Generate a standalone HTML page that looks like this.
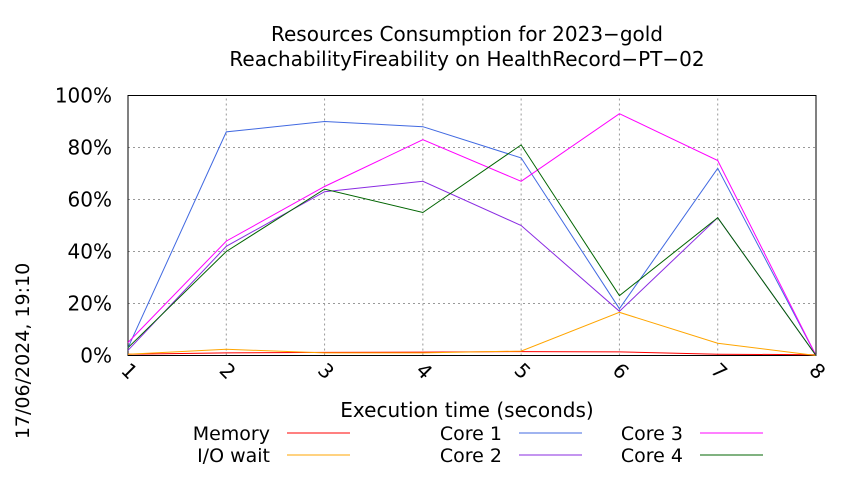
<!DOCTYPE html>
<html><head><meta charset="utf-8"><style>
body{margin:0;background:#fff}
svg{font-family:"DejaVu Sans","Liberation Sans",sans-serif}
</style></head><body>
<svg id="c" width="850" height="475">
<text x="467" y="41" font-size="20" text-anchor="middle">Resources Consumption for 2023−gold</text>
<text x="467" y="66" font-size="20" text-anchor="middle">ReachabilityFireability on HealthRecord−PT−02</text>
<g id="grid"></g><g id="series"></g>
<text x="467" y="417" font-size="20" text-anchor="middle">Execution time (seconds)</text>
<text transform="translate(29,351) rotate(-90)" font-size="19" text-anchor="middle">17/06/2024, 19:10</text>
<g id="legend"></g>
</svg>
<script>
const xValues=[1,2,3,4,5,6,7,8];
const yTicks=[0,20,40,60,80,100];
const memory=[0.5,1,1.2,1.3,1.5,1.4,0.5,0.3];
const ioWait=[0.5,2.4,1,1,1.7,16.6,4.7,0];
const core1=[3,86,90,88,76,18,72,0];
const core2=[2,42,63,67,50,17,53,0];
const core3=[5,44,65,83,67,93,75,0];
const core4=[3,40,64,55,81,23,53,0];
const NS="http://www.w3.org/2000/svg";
const X0=128,X1=816,Y0=355.5,Y1=95.5;
const sx=v=>X0+(v-1)*(X1-X0)/7;
const sy=v=>Y0-v*(Y0-Y1)/100;
function mk(t,a,p){const e=document.createElementNS(NS,t);for(const k in a)e.setAttribute(k,a[k]);p.appendChild(e);return e;}
const g=document.getElementById('grid');
yTicks.forEach(t=>{
 const l=mk('line',{x1:X0,x2:X1,y1:sy(t),y2:sy(t),stroke:'#999','stroke-dasharray':'2,3','stroke-width':1},g);
 
 
 const tx=mk('text',{x:112,y:sy(t)+7,'font-size':20,'text-anchor':'end'},g);
 tx.textContent=t+'%';
 
 
});
xValues.forEach(v=>{
 const l=mk('line',{x1:sx(v),x2:sx(v),y1:Y0,y2:Y1,stroke:'#999','stroke-dasharray':'2,3','stroke-width':1},g);
 
 
 const tx=mk('text',{transform:`translate(${sx(v)-8},${Y0+16}) rotate(45)`,'font-size':20},g);
 tx.textContent=v;
 
 
});
const fr=mk('rect',{x:X0,y:Y1,width:X1-X0,height:Y0-Y1,fill:'none',stroke:'#000','stroke-width':1},g);


const S=[['Memory',memory,'#ff0000'],['I/O wait',ioWait,'#ffa500'],['Core 1',core1,'#4169e1'],['Core 2',core2,'#8a2be2'],['Core 3',core3,'#ff00ff'],['Core 4',core4,'#006400']];
const sg=document.getElementById('series'),lg=document.getElementById('legend');
S.forEach((s,i)=>{
 const p=mk('polyline',{points:s[1].map((v,j)=>sx(xValues[j])+','+sy(v)).join(' '),fill:'none',stroke:s[2],'stroke-width':1},sg);
 
 
 const col=Math.floor(i/2),row=i%2;
 const tx0=[270,502,683][col],y=433+row*22;
 const t=mk('text',{x:tx0,y:y+7,'font-size':19,'text-anchor':'end'},lg);
 t.textContent=s[0];
 
 
 const l=mk('line',{x1:tx0+17,x2:tx0+80,y1:y,y2:y,stroke:s[2],'stroke-width':1},lg);
 
 
});
</script>
</body></html>
